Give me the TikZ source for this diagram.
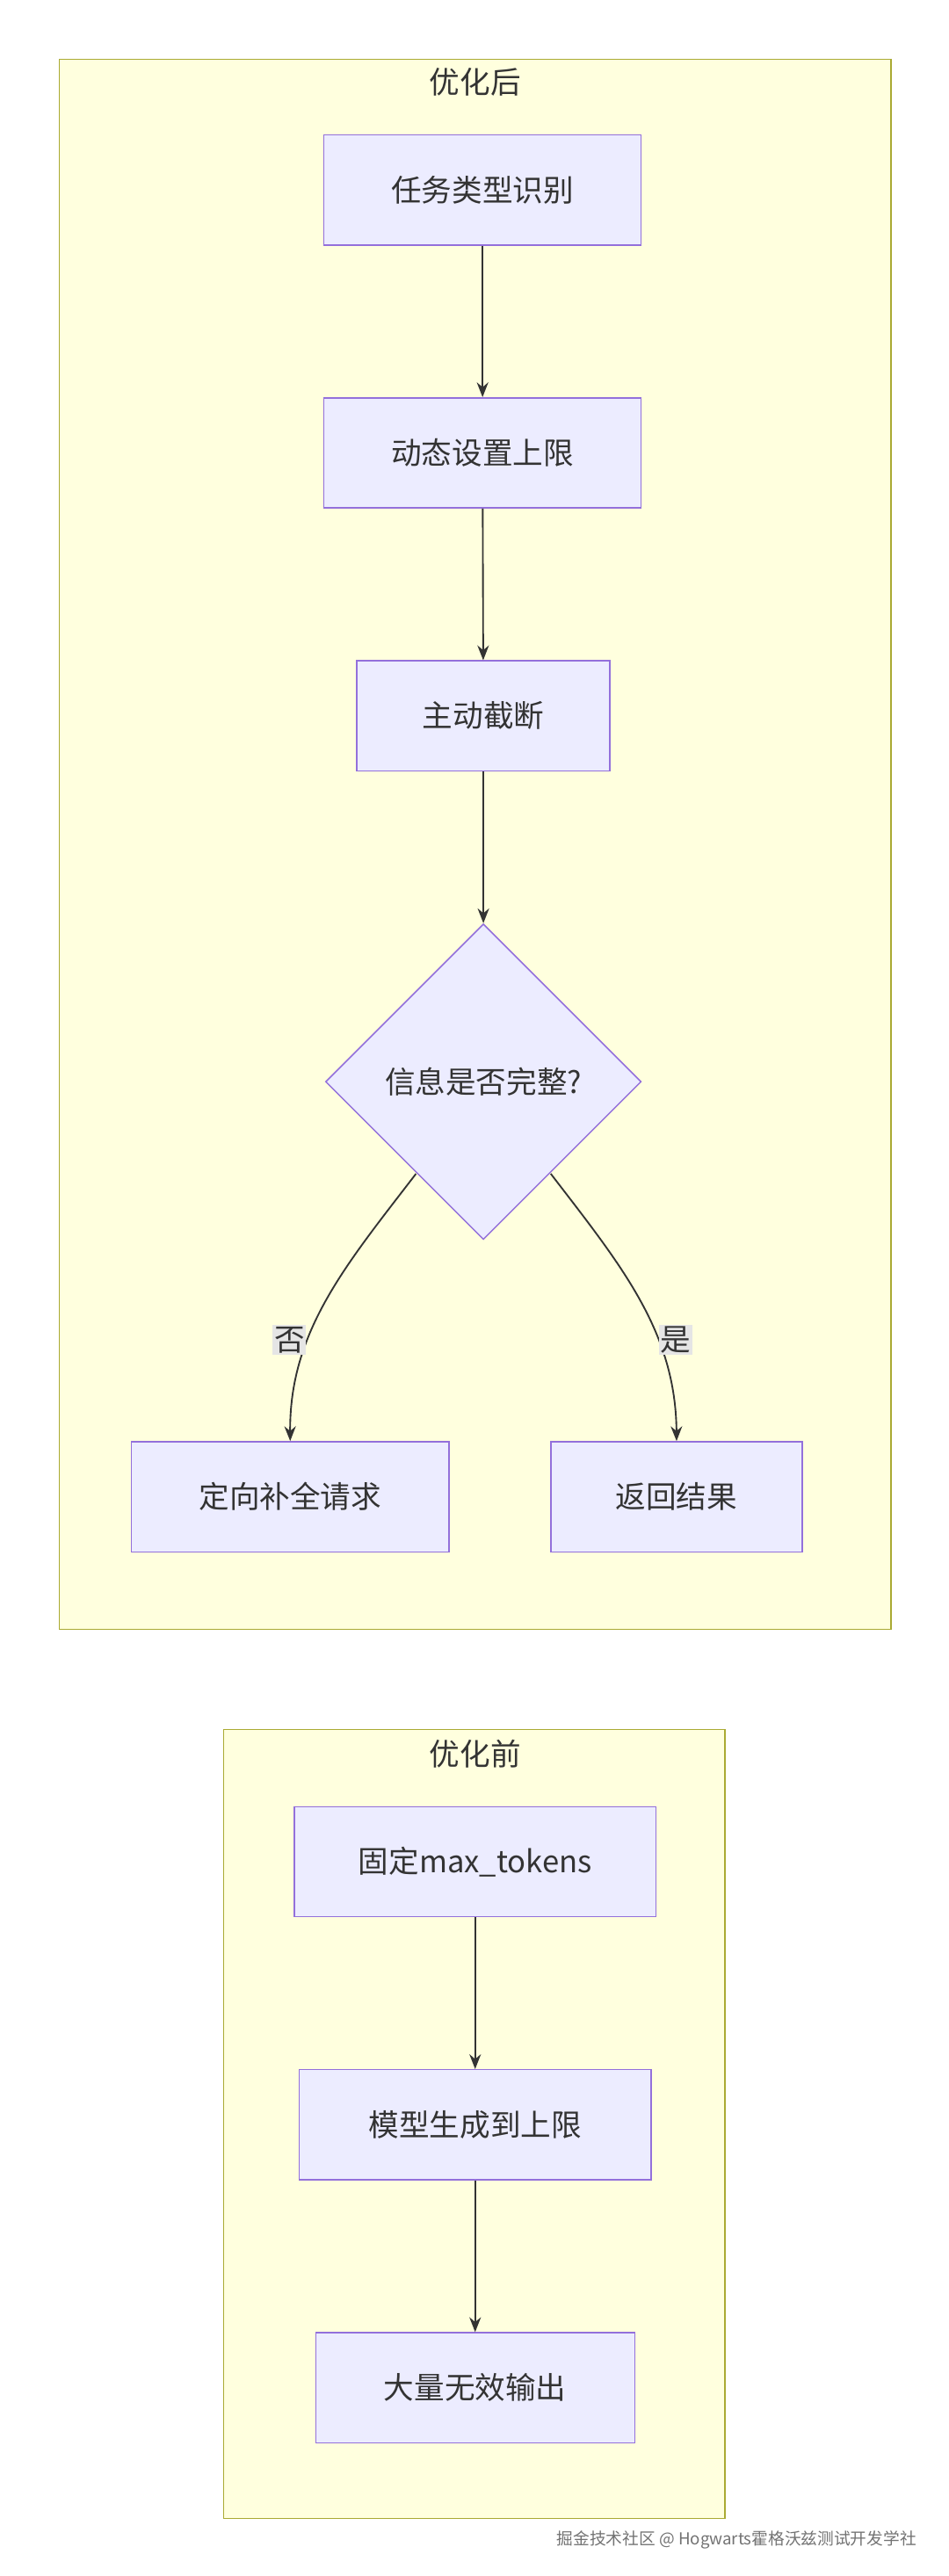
\documentclass[tikz,border=0pt]{standalone}
\usepackage{fontspec}
\setmainfont{Noto Sans CJK SC}
\usetikzlibrary{shapes.geometric,arrows.meta}
\definecolor{cf}{HTML}{FFFFDE}\definecolor{cs}{HTML}{AAAA33}
\definecolor{nf}{HTML}{ECECFF}\definecolor{ns}{HTML}{9370DB}
\definecolor{ar}{HTML}{333333}
\begin{document}
\begin{tikzpicture}[x=1pt,y=-1pt,
 cl/.style={draw=cs,fill=cf,line width=0.8pt},
 box/.style={draw=ns,fill=nf,line width=0.8pt,font=\fontsize{18.5}{22}\selectfont,text=ar},
 ttl/.style={font=\fontsize{18.5}{22}\selectfont,text=ar},
 lab/.style={fill=black!10,inner sep=1pt,font=\fontsize{18.5}{22}\selectfont,text=ar},
 arr/.style={draw=ar,line width=1pt,-{Stealth[length=9pt,width=7pt]}}]
\useasboundingbox (0,0) rectangle (577,1567);
\fill[white] (0,0) rectangle (577,1567);
\draw[cl] (36,36) rectangle (542,991);
\node[ttl] (t1) at (289,50) {优化后};
\draw[cl] (136,1052) rectangle (441,1532);
\node[ttl] (t2) at (289,1067) {优化前};
\node[box,minimum width=193pt,minimum height=67pt] (a) at (293.5,115.5) {任务类型识别};
\node[box,minimum width=193pt,minimum height=67pt] (b) at (293.5,275.5) {动态设置上限};
\node[box,minimum width=154pt,minimum height=67pt] (c) at (294,435.5) {主动截断};
\node[diamond,draw=ns,fill=nf,line width=0.8pt,minimum width=192pt,minimum height=192pt,inner sep=0pt,font=\fontsize{18.5}{22}\selectfont,text=ar] (d) at (294,658) {信息是否完整?};
\node[box,minimum width=193pt,minimum height=67pt] (e) at (176.5,910.5) {定向补全请求};
\node[box,minimum width=153pt,minimum height=67pt] (f) at (411.5,910.5) {返回结果};
\draw[arr] (a) -- (b);
\draw[arr] (b) -- (c);
\draw[arr] (c) -- (d);
\draw[arr] (253,714) .. controls (210,770) and (176,810) .. (e.north);
\draw[arr] (335,714) .. controls (378,770) and (411,810) .. (f.north);
\node[lab] (l1) at (176,815) {否};
\node[lab] (l2) at (411,815) {是};
\node[box,minimum width=220pt,minimum height=67pt] (g) at (289,1132.5) {固定max\_tokens};
\node[box,minimum width=214pt,minimum height=67pt] (h) at (289,1292.5) {模型生成到上限};
\node[box,minimum width=194pt,minimum height=67pt] (i) at (289,1452.5) {大量无效输出};
\draw[arr] (g) -- (h);
\draw[arr] (h) -- (i);
\node[font=\fontsize{10}{12}\selectfont,text=black!55] (w) at (448,1545) {掘金技术社区 @ Hogwarts霍格沃兹测试开发学社};
\end{tikzpicture}
\end{document}
